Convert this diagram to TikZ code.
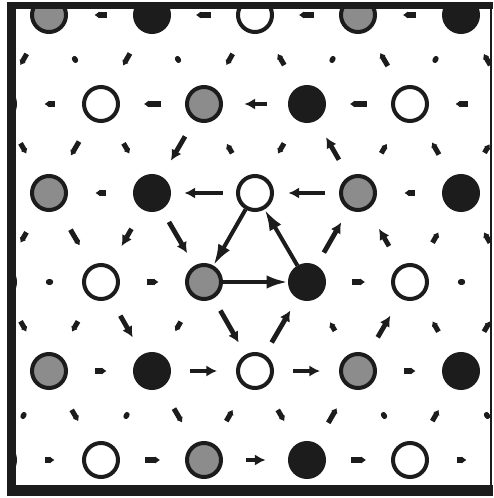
\documentclass[tikz,border=0pt]{standalone}
\usepackage{tikz}
\usetikzlibrary{calc, arrows.meta}

\definecolor{xam}{HTML}{8C8C8C}
\definecolor{den}{HTML}{1C1C1C}

\tikzset{
    nut/.style={circle, minimum size=25.5pt, inner sep=0pt, line width=3pt, draw=den},
    wnut/.style={nut, fill=white},
    gnut/.style={nut, fill=xam},
    bnut/.style={nut, fill=den},
    lon/.style={line width=3pt, draw=den, -{Latex[length=16pt, width=10pt]}},
    vua/.style={line width=3.6pt, draw=den, -{Latex[length=8pt, width=8.5pt]}},
    nho/.style={line width=3.8pt, draw=den, -{Latex[length=3.5pt, width=5.5pt]}},
    cham/.style={line width=4pt, draw=den, line cap=round}
}
% mũi tên dài #4 (px) đặt giữa cạnh #2 -- #3, hướng về #3
\newcommand{\dong}[4][nho]{\draw[#1] ($(#2)!{0.5-#4/206}!(#3)$) -- ($(#2)!{0.5+#4/206}!(#3)$);}

\begin{document}
\begin{tikzpicture}[x=0.75pt, y=-0.75pt]
    \useasboundingbox (0,0) rectangle (493,498);

    \begin{scope}
    \clip (16,9) rectangle (490,485);

    % 1. Các nút của mạng tam giác (hàng chẵn, hàng lẻ)
    \foreach \r in {0,2,4} {
        \foreach \c/\s in {0/gnut,1/bnut,2/wnut,3/gnut,4/bnut}
            \node[\s] (n\r\c) at ({49+103*\c},{15+89*\r}) {};
    }
    \foreach \r in {1,3,5} {
        \foreach \c/\s in {0/bnut,1/wnut,2/gnut,3/bnut,4/wnut,5/gnut}
            \node[\s] (n\r\c) at ({-2+103*\c},{15+89*\r}) {};
    }

    % 2. Dòng vòng quanh tam giác ở giữa
    \draw[lon] (n32) -- (n33);
    \draw[lon] (n33) -- (n22);
    \draw[lon] (n22) -- (n32);

    % 3. Các mũi tên vừa gần tam giác
    \foreach \a/\b/\l in {13/12/22,22/21/38,23/22/36,41/42/27,42/43/27,52/53/20,
            12/21/28,23/13/26,21/32/36,33/23/35,21/31/20,34/23/20,
            31/41/25,32/42/37,42/33/37,43/34/25}
        {\dong[vua]{n\a}{n\b}{\l}}

    % 4. Các mũi tên nhỏ: cạnh ngang
    \foreach \a/\b/\l in {01/00/12,02/01/15,03/02/15,04/03/13,
            11/10/10,12/11/17,14/13/17,15/14/12,
            21/20/10,24/23/10,31/32/12,33/34/13,40/41/12,43/44/12,
            50/51/10,51/52/15,53/54/15,54/55/10}
        {\dong{n\a}{n\b}{\l}}

    % 5. Các mũi tên nhỏ: cạnh xiên
    \foreach \a/\b/\l in {00/10/13,01/11/14,02/12/13,13/02/13,14/03/15,15/04/13,
            10/20/12,11/20/16,11/21/12,22/12/11,13/22/12,23/14/11,24/14/14,24/15/10,
            20/30/12,20/31/18,34/24/12,35/24/12,
            30/40/12,31/40/12,32/41/11,43/33/10,44/34/12,44/35/12,
            40/51/13,41/52/16,52/42/13,42/53/13,53/43/17,54/44/13}
        {\dong{n\a}{n\b}{\l}}

    % 6. Các chấm (dòng rất nhỏ)
    \foreach \a/\b in {30/31,34/35,00/11,12/01,03/13,14/04,40/50,41/51,54/43,55/44}
        {\dong[cham]{n\a}{n\b}{2}}
    \end{scope}

    % 7. Khung
    \fill[den] (7,2) rectangle (16,496);
    \fill[den] (7,2) rectangle (493,9);
    \fill[den] (7,485) rectangle (493,496);
    \fill[den] (490,2) rectangle (492,496);
\end{tikzpicture}
\end{document}
